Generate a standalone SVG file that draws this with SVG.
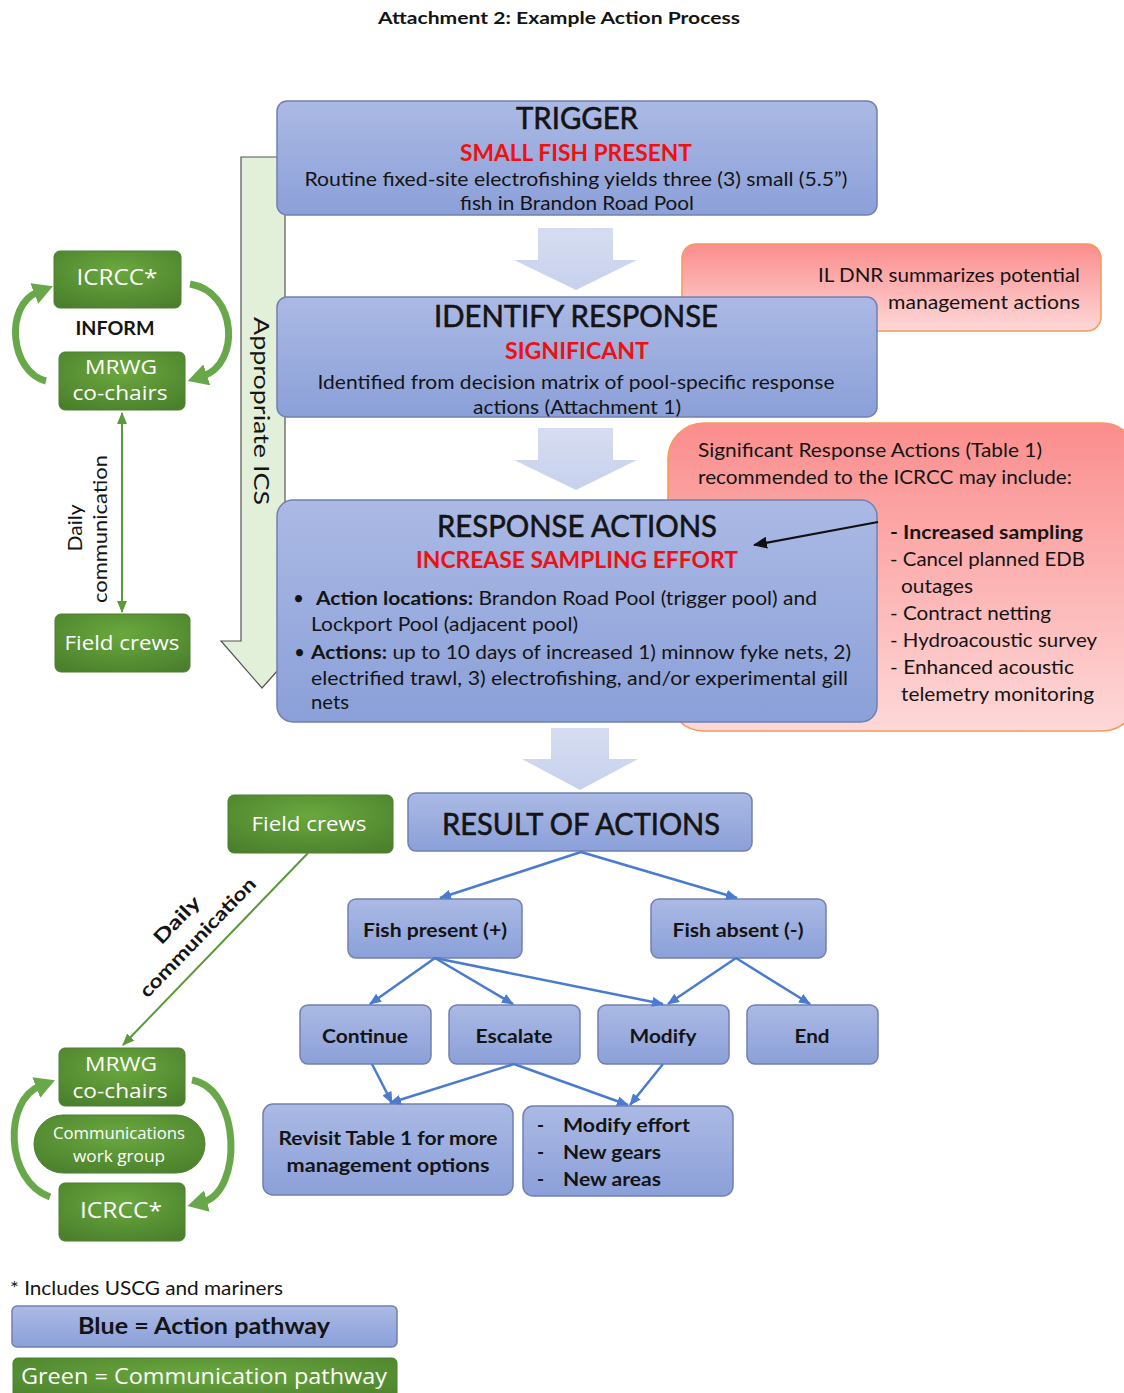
<svg xmlns="http://www.w3.org/2000/svg" width="1124" height="1393" viewBox="0 0 1124 1393">
  <defs>
    <linearGradient id="gBlue" x1="0" y1="0" x2="0" y2="1">
      <stop offset="0" stop-color="#abb9e4"/>
      <stop offset="1" stop-color="#8ba0d9"/>
    </linearGradient>
    <linearGradient id="gRed" x1="0" y1="0" x2="0" y2="1">
      <stop offset="0" stop-color="#fb8d8d"/>
      <stop offset="1" stop-color="#fed8d8"/>
    </linearGradient>
    <radialGradient id="gGreen" cx="0.5" cy="0.35" r="0.75">
      <stop offset="0" stop-color="#6aa83e"/>
      <stop offset="1" stop-color="#4a7f2c"/>
    </radialGradient>
    <linearGradient id="gBlock" x1="0" y1="0" x2="0" y2="1">
      <stop offset="0" stop-color="#d6ddf1"/>
      <stop offset="1" stop-color="#c7d1ed"/>
    </linearGradient>
    <marker id="mBlue" markerUnits="userSpaceOnUse" markerWidth="12" markerHeight="10" refX="11" refY="5" orient="auto">
      <path d="M0,0 L12,5 L0,10 z" fill="#4a7bd0"/>
    </marker>
    <marker id="mGreen" markerUnits="userSpaceOnUse" markerWidth="12" markerHeight="10" refX="11" refY="5" orient="auto-start-reverse">
      <path d="M0,0 L12,5 L0,10 z" fill="#5a9a3a"/>
    </marker>
    <marker id="mCurve" markerUnits="userSpaceOnUse" markerWidth="20" markerHeight="22" refX="4" refY="11" orient="auto">
      <path d="M0,0 L20,11 L0,22 z" fill="#68a84a"/>
    </marker>
    <marker id="mBlack" markerUnits="userSpaceOnUse" markerWidth="14" markerHeight="12" refX="13" refY="6" orient="auto">
      <path d="M0,0 L14,6 L0,12 z" fill="#111"/>
    </marker>
    <style>
      .blue { fill: url(#gBlue); stroke: #7080b0; stroke-width: 1.5; }
      .red { fill: url(#gRed); stroke: #f39a58; stroke-width: 1.5; }
      .green { fill: url(#gGreen); stroke: #4d7f32; stroke-width: 1; }
      .block { fill: url(#gBlock); }
      .t { font-family: Lato, "Liberation Sans", sans-serif; fill: #141414; }
      .w { font-family: "Open Sans", "Noto Sans", sans-serif; fill: #ffffff; }
      .c { text-anchor: middle; }
      .b { font-weight: bold; }
      .h { stroke: #141414; stroke-width: 0.6; }
      .rd { fill: #ee1111; font-weight: bold; }
      .blink { stroke: #4a7bd0; stroke-width: 2.5; fill: none; marker-end: url(#mBlue); }
      .curve { stroke: #68a84a; stroke-width: 7; fill: none; marker-end: url(#mCurve); }
    </style>
  </defs>
  <rect width="1124" height="1393" fill="#ffffff"/>

  <text class="t c b" x="559" y="24" font-size="17" textLength="362" lengthAdjust="spacingAndGlyphs">Attachment 2: Example Action Process</text>

  <!-- Appropriate ICS band arrow (behind the action boxes) -->
  <g id="ics-arrow">
    <polygon points="241,157 285,157 285,641 304,641 262,688 221,641 241,641" fill="#e2efd9" stroke="#555" stroke-width="1.2"/>
    <text class="t c" transform="translate(254,411) rotate(90)" font-size="22" textLength="188" lengthAdjust="spacingAndGlyphs">Appropriate ICS</text>
  </g>

  <!-- Side notes -->
  <g id="note-ildnr">
    <rect class="red" x="682" y="244" width="419" height="87" rx="14"/>
    <text class="t" x="1080" y="282" font-size="19" text-anchor="end" textLength="262" lengthAdjust="spacingAndGlyphs">IL DNR summarizes potential</text>
    <text class="t" x="1080" y="309" font-size="19" text-anchor="end" textLength="192" lengthAdjust="spacingAndGlyphs">management actions</text>
  </g>
  <g id="note-significant">
    <rect class="red" x="668" y="423" width="470" height="308" rx="36"/>
    <text class="t" x="698" y="457" font-size="19" textLength="344" lengthAdjust="spacingAndGlyphs">Significant Response Actions (Table 1)</text>
    <text class="t" x="698" y="484" font-size="19" textLength="374" lengthAdjust="spacingAndGlyphs">recommended  to the ICRCC may include:</text>
    <text class="t b" x="890" y="539" font-size="19" textLength="193" lengthAdjust="spacingAndGlyphs">- Increased sampling</text>
    <text class="t" x="890" y="566" font-size="19" textLength="195" lengthAdjust="spacingAndGlyphs">- Cancel planned EDB</text>
    <text class="t" x="901" y="593" font-size="19" textLength="72" lengthAdjust="spacingAndGlyphs">outages</text>
    <text class="t" x="890" y="620" font-size="19" textLength="161" lengthAdjust="spacingAndGlyphs">- Contract netting</text>
    <text class="t" x="890" y="647" font-size="19" textLength="207" lengthAdjust="spacingAndGlyphs">- Hydroacoustic survey</text>
    <text class="t" x="890" y="674" font-size="19" textLength="184" lengthAdjust="spacingAndGlyphs">- Enhanced acoustic</text>
    <text class="t" x="901" y="701" font-size="19" textLength="193" lengthAdjust="spacingAndGlyphs">telemetry  monitoring</text>
  </g>

  <!-- Flow block arrows -->
  <g id="block-arrows">
    <polygon class="block" points="538,228 613,228 613,260 637,260 576,290 514,260 538,260"/>
    <polygon class="block" points="538,428 613,428 613,460 637,460 576,490 514,460 538,460"/>
    <polygon class="block" points="551,728 609,728 609,759 638,759 580,790 522,759 551,759"/>
  </g>

  <g id="trigger">
    <rect class="blue" x="277" y="101" width="600" height="114" rx="10"/>
    <text class="t c h" x="577" y="129" font-size="30" textLength="122" lengthAdjust="spacingAndGlyphs">TRIGGER</text>
    <text class="t c rd" x="576" y="161" font-size="22" textLength="232" lengthAdjust="spacingAndGlyphs">SMALL FISH PRESENT</text>
    <text class="t c" x="576" y="186" font-size="19" textLength="543" lengthAdjust="spacingAndGlyphs">Routine fixed-site electrofishing yields three (3) small (5.5”)</text>
    <text class="t c" x="577" y="210" font-size="19" textLength="234" lengthAdjust="spacingAndGlyphs">fish in Brandon Road Pool</text>
  </g>

  <g id="identify-response">
    <rect class="blue" x="277" y="297" width="600" height="120" rx="10"/>
    <text class="t c h" x="576" y="327" font-size="30" textLength="284" lengthAdjust="spacingAndGlyphs">IDENTIFY RESPONSE</text>
    <text class="t c rd" x="577" y="359" font-size="22" textLength="144" lengthAdjust="spacingAndGlyphs">SIGNIFICANT</text>
    <text class="t c" x="576" y="389" font-size="19" textLength="517" lengthAdjust="spacingAndGlyphs">Identified from  decision matrix of pool-specific response</text>
    <text class="t c" x="577" y="414" font-size="19" textLength="208" lengthAdjust="spacingAndGlyphs">actions (Attachment 1)</text>
  </g>

  <g id="response-actions">
    <rect class="blue" x="277" y="500" width="600" height="222" rx="16"/>
    <text class="t c h" x="577" y="537" font-size="30" textLength="280" lengthAdjust="spacingAndGlyphs">RESPONSE ACTIONS</text>
    <text class="t c rd" x="577" y="568" font-size="22" textLength="322" lengthAdjust="spacingAndGlyphs">INCREASE SAMPLING EFFORT</text>
    <text class="t" x="293" y="605" font-size="19">•</text>
    <text class="t" x="316" y="605" font-size="19" textLength="501" lengthAdjust="spacingAndGlyphs"><tspan font-weight="bold">Action locations:</tspan> Brandon Road Pool  (trigger pool)  and</text>
    <text class="t" x="311" y="631" font-size="19" textLength="267" lengthAdjust="spacingAndGlyphs">Lockport  Pool (adjacent pool)</text>
    <text class="t" x="294" y="659" font-size="19">•</text>
    <text class="t" x="311" y="659" font-size="19" textLength="540" lengthAdjust="spacingAndGlyphs"><tspan font-weight="bold">Actions:</tspan> up to 10 days of increased 1) minnow  fyke nets, 2)</text>
    <text class="t" x="311" y="685" font-size="19" textLength="537" lengthAdjust="spacingAndGlyphs">electrified trawl, 3) electrofishing, and/or experimental gill</text>
    <text class="t" x="311" y="709" font-size="19" textLength="38" lengthAdjust="spacingAndGlyphs">nets</text>
  </g>

  <!-- Communication nodes, upper group -->
  <g id="icrcc-top">
    <rect class="green" x="54" y="251" width="127" height="57" rx="6"/>
    <text class="w c" x="117" y="285" font-size="22" textLength="81" lengthAdjust="spacingAndGlyphs">ICRCC*</text>
  </g>
  <text class="t c b" x="115" y="335" font-size="18" textLength="79" lengthAdjust="spacingAndGlyphs">INFORM</text>
  <g id="mrwg-top">
    <rect class="green" x="59" y="352" width="126" height="58" rx="6"/>
    <text class="w c" x="121" y="374" font-size="20" textLength="72" lengthAdjust="spacingAndGlyphs">MRWG</text>
    <text class="w c" x="120" y="400" font-size="20" textLength="95" lengthAdjust="spacingAndGlyphs">co-chairs</text>
  </g>
  <g id="field-crews-top">
    <rect class="green" x="55" y="614" width="135" height="58" rx="6"/>
    <text class="w c" x="122" y="650" font-size="20" textLength="115" lengthAdjust="spacingAndGlyphs">Field crews</text>
  </g>

  <!-- Results section -->
  <g id="field-crews-bottom">
    <rect class="green" x="228" y="795" width="165" height="58" rx="6"/>
    <text class="w c" x="309" y="831" font-size="20" textLength="115" lengthAdjust="spacingAndGlyphs">Field crews</text>
  </g>
  <g id="result-of-actions">
    <rect class="blue" x="408" y="793" width="344" height="58" rx="8"/>
    <text class="t c h" x="581" y="835" font-size="30" textLength="278" lengthAdjust="spacingAndGlyphs">RESULT OF ACTIONS</text>
  </g>
  <g id="fish-present">
    <rect class="blue" x="348" y="899" width="174" height="59" rx="8"/>
    <text class="t c b" x="435" y="937" font-size="19" textLength="144" lengthAdjust="spacingAndGlyphs">Fish present (+)</text>
  </g>
  <g id="fish-absent">
    <rect class="blue" x="651" y="899" width="175" height="59" rx="8"/>
    <text class="t c b" x="738" y="937" font-size="19" textLength="131" lengthAdjust="spacingAndGlyphs">Fish absent (-)</text>
  </g>
  <g id="continue">
    <rect class="blue" x="300" y="1005" width="131" height="59" rx="8"/>
    <text class="t c b" x="365" y="1043" font-size="19" textLength="86" lengthAdjust="spacingAndGlyphs">Continue</text>
  </g>
  <g id="escalate">
    <rect class="blue" x="449" y="1005" width="131" height="59" rx="8"/>
    <text class="t c b" x="514" y="1043" font-size="19" textLength="77" lengthAdjust="spacingAndGlyphs">Escalate</text>
  </g>
  <g id="modify">
    <rect class="blue" x="598" y="1005" width="131" height="59" rx="8"/>
    <text class="t c b" x="663" y="1043" font-size="19" textLength="67" lengthAdjust="spacingAndGlyphs">Modify</text>
  </g>
  <g id="end">
    <rect class="blue" x="747" y="1005" width="131" height="59" rx="8"/>
    <text class="t c b" x="812" y="1043" font-size="19" textLength="35" lengthAdjust="spacingAndGlyphs">End</text>
  </g>
  <g id="revisit-table">
    <rect class="blue" x="263" y="1104" width="250" height="91" rx="10"/>
    <text class="t c b" x="388" y="1145" font-size="19" textLength="219" lengthAdjust="spacingAndGlyphs">Revisit Table 1 for more</text>
    <text class="t c b" x="388" y="1172" font-size="19" textLength="203" lengthAdjust="spacingAndGlyphs">management options</text>
  </g>
  <g id="modify-options">
    <rect class="blue" x="523" y="1106" width="210" height="90" rx="10"/>
    <text class="t b" x="537" y="1132" font-size="19">-</text>
    <text class="t b" x="563" y="1132" font-size="19" textLength="127" lengthAdjust="spacingAndGlyphs">Modify effort</text>
    <text class="t b" x="537" y="1159" font-size="19">-</text>
    <text class="t b" x="563" y="1159" font-size="19" textLength="98" lengthAdjust="spacingAndGlyphs">New gears</text>
    <text class="t b" x="537" y="1186" font-size="19">-</text>
    <text class="t b" x="563" y="1186" font-size="19" textLength="98" lengthAdjust="spacingAndGlyphs">New areas</text>
  </g>

  <!-- Communication nodes, lower group -->
  <g id="mrwg-bottom">
    <rect class="green" x="59" y="1048" width="126" height="58" rx="6"/>
    <text class="w c" x="121" y="1071" font-size="20" textLength="72" lengthAdjust="spacingAndGlyphs">MRWG</text>
    <text class="w c" x="120" y="1098" font-size="20" textLength="95" lengthAdjust="spacingAndGlyphs">co-chairs</text>
  </g>
  <g id="comms-work-group">
    <rect class="green" x="34" y="1115" width="171" height="58" rx="29"/>
    <text class="w c" x="119" y="1139" font-size="16" textLength="132" lengthAdjust="spacingAndGlyphs">Communications</text>
    <text class="w c" x="119" y="1162" font-size="16" textLength="92" lengthAdjust="spacingAndGlyphs">work group</text>
  </g>
  <g id="icrcc-bottom">
    <rect class="green" x="59" y="1183" width="126" height="58" rx="6"/>
    <text class="w c" x="121" y="1218" font-size="22" textLength="82" lengthAdjust="spacingAndGlyphs">ICRCC*</text>
  </g>

  <!-- Connectors -->
  <g id="connectors">
    <!-- black pointer from the recommended list -->
    <line x1="878" y1="522" x2="754" y2="545" stroke="#111" stroke-width="2.2" marker-end="url(#mBlack)"/>
    <!-- action pathway -->
    <line class="blink" x1="581" y1="852" x2="440" y2="898"/>
    <line class="blink" x1="581" y1="852" x2="737" y2="898"/>
    <line class="blink" x1="435" y1="958" x2="370" y2="1004"/>
    <line class="blink" x1="435" y1="958" x2="513" y2="1004"/>
    <line class="blink" x1="435" y1="958" x2="663" y2="1004"/>
    <line class="blink" x1="736" y1="958" x2="668" y2="1004"/>
    <line class="blink" x1="736" y1="958" x2="810" y2="1004"/>
    <line class="blink" x1="372" y1="1064" x2="392" y2="1103"/>
    <line class="blink" x1="514" y1="1064" x2="390" y2="1103"/>
    <line class="blink" x1="514" y1="1064" x2="628" y2="1105"/>
    <line class="blink" x1="663" y1="1064" x2="630" y2="1105"/>
    <!-- communication pathway -->
    <line x1="122" y1="413" x2="122" y2="612" stroke="#5a9a3a" stroke-width="2" marker-start="url(#mGreen)" marker-end="url(#mGreen)"/>
    <line x1="308" y1="853" x2="123" y2="1045" stroke="#5a9a3a" stroke-width="2" marker-end="url(#mGreen)"/>
    <path class="curve" d="M46,381 C10,372 4,305 38,292"/>
    <path class="curve" d="M190,284 C238,292 240,364 203,376"/>
    <path class="curve" d="M50,1197 C4,1180 4,1100 40,1086"/>
    <path class="curve" d="M192,1080 C242,1090 242,1192 203,1202"/>
  </g>

  <!-- Connector labels -->
  <text class="t c" transform="translate(82,528) rotate(-90)" font-size="19" textLength="47" lengthAdjust="spacingAndGlyphs">Daily</text>
  <text class="t c" transform="translate(107,529) rotate(-90)" font-size="19" textLength="148" lengthAdjust="spacingAndGlyphs">communication</text>
  <g transform="translate(188,928) rotate(-46)">
    <text class="t c b" x="-2" y="-7" font-size="19" textLength="58" lengthAdjust="spacingAndGlyphs">Daily</text>
    <text class="t c b" x="0" y="20" font-size="19" textLength="158" lengthAdjust="spacingAndGlyphs">communication</text>
  </g>

  <!-- Key -->
  <text class="t" x="10" y="1295" font-size="19" textLength="273" lengthAdjust="spacingAndGlyphs">* Includes USCG and mariners</text>
  <g id="key-blue">
    <rect class="blue" x="12" y="1306" width="385" height="41" rx="5"/>
    <text class="t c b" x="204" y="1334" font-size="22" textLength="252" lengthAdjust="spacingAndGlyphs">Blue = Action  pathway</text>
  </g>
  <g id="key-green">
    <rect class="green" x="13" y="1358" width="384" height="45" rx="5"/>
    <text class="w c" x="204" y="1384" font-size="22" textLength="366" lengthAdjust="spacingAndGlyphs">Green = Communication  pathway</text>
  </g>
</svg>
